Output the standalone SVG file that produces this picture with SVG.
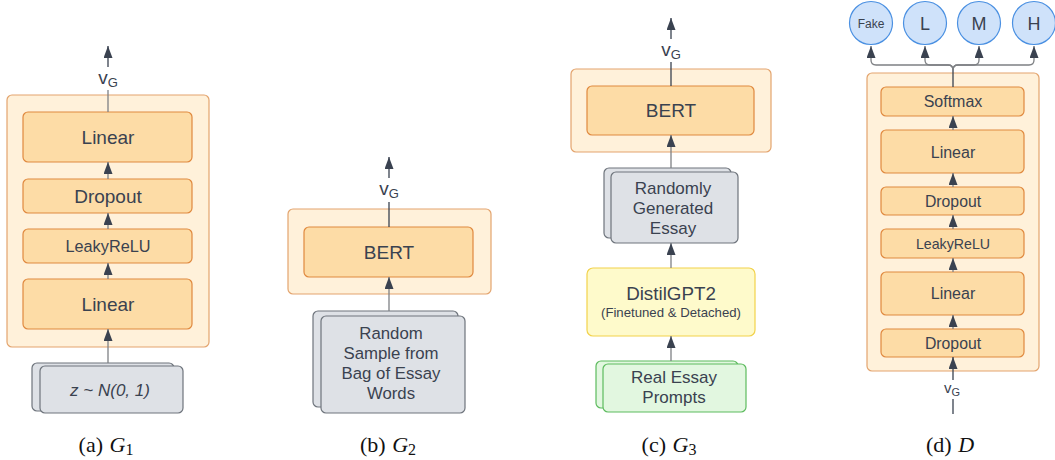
<svg xmlns="http://www.w3.org/2000/svg" width="1055" height="460" viewBox="0 0 1055 460">
<style>
  .outer { fill: #FFF1DA; stroke: #E3A46E; stroke-width: 1.2; }
  .inner { fill: #FDDCA6; stroke: #E0893F; stroke-width: 1.2; }
  .stack { fill: #DEE1E6; stroke: #6E747C; stroke-width: 1.2; }
  .green { fill: #E2F7E0; stroke: #5DBB5E; stroke-width: 1.2; }
  .yellow { fill: #FEFACB; stroke: #F2D24B; stroke-width: 1.2; }
  .circle { fill: #CFE2FA; stroke: #4A90E2; stroke-width: 1.2; }
  .lbl { font-family: "Liberation Sans", Arial, sans-serif; fill: #3A4250; text-anchor: middle; }
  .cap { font-family: "Liberation Serif", "Times New Roman", serif; fill: #111; font-size: 22px; text-anchor: middle; }
  .wire { stroke: #7E8084; stroke-width: 1.3; fill: none; }
  .dark { stroke: #3A4250; }
</style>
<defs>
  <marker id="arr" markerUnits="userSpaceOnUse" markerWidth="13" markerHeight="10" refX="12" refY="4.5" orient="auto">
    <path d="M0,0 L12,4.5 L0,9 z" fill="#3A4250"/>
  </marker>
</defs>

<!-- G1 -->
<g id="g1">
  <rect class="outer" x="7" y="95" width="202" height="252" rx="5"/>
  <rect class="inner" x="23" y="112" width="169" height="50" rx="5"/>
  <text class="lbl" x="108" y="143.5" font-size="19">Linear</text>
  <rect class="inner" x="23" y="179" width="169" height="34" rx="5"/>
  <text class="lbl" x="108" y="202.5" font-size="19">Dropout</text>
  <rect class="inner" x="23" y="229" width="169" height="34" rx="5"/>
  <text class="lbl" x="108" y="252" font-size="16.3">LeakyReLU</text>
  <rect class="inner" x="23" y="279" width="169" height="50" rx="5"/>
  <text class="lbl" x="108" y="310.5" font-size="19">Linear</text>
  <text class="lbl" x="108" y="84" font-size="19" fill="#222">v<tspan font-size="13" dy="3">G</tspan></text>
</g>
<g id="g1-input">
  <rect class="stack" x="32" y="363" width="142" height="48" rx="5"/>
  <rect class="stack" x="40" y="366" width="143" height="47" rx="5"/>
  <text class="lbl" x="110" y="396" font-size="17" font-style="italic">z ~ N(0, 1)</text>
</g>

<!-- G2 -->
<g id="g2">
  <rect class="outer" x="288" y="209" width="203" height="85" rx="5"/>
  <rect class="inner" x="304" y="227" width="169" height="50" rx="5"/>
  <text class="lbl" x="389" y="258.5" font-size="19">BERT</text>
  <text class="lbl" x="389" y="195" font-size="19" fill="#222">v<tspan font-size="13" dy="3">G</tspan></text>
</g>
<g id="g2-input">
  <rect class="stack" x="313" y="311" width="145" height="96" rx="5"/>
  <rect class="stack" x="321" y="316" width="144" height="97" rx="5"/>
  <text class="lbl" font-size="16.8"><tspan x="391" y="339">Random</tspan><tspan x="391" y="359">Sample from</tspan><tspan x="391" y="379">Bag of Essay</tspan><tspan x="391" y="399">Words</tspan></text>
</g>

<!-- G3 -->
<g id="g3">
  <rect class="outer" x="571" y="69" width="200" height="83" rx="5"/>
  <rect class="inner" x="587" y="86" width="167" height="49" rx="5"/>
  <text class="lbl" x="671" y="117" font-size="19">BERT</text>
  <text class="lbl" x="671" y="56" font-size="19" fill="#222">v<tspan font-size="13" dy="3">G</tspan></text>
</g>
<g id="g3-essay">
  <rect class="stack" x="604" y="168" width="127" height="70" rx="5"/>
  <rect class="stack" x="611" y="172" width="127" height="71" rx="5"/>
  <text class="lbl" font-size="17"><tspan x="673" y="194">Randomly</tspan><tspan x="673" y="214">Generated</tspan><tspan x="673" y="234">Essay</tspan></text>
</g>
<g id="g3-gpt">
  <rect class="yellow" x="587" y="268" width="168" height="68" rx="6"/>
  <text class="lbl" x="671" y="300" font-size="18.8">DistilGPT2</text>
  <text class="lbl" x="671" y="316.5" font-size="13.2">(Finetuned &amp; Detached)</text>
</g>
<g id="g3-prompts">
  <rect class="green" x="596" y="361" width="142" height="47" rx="5"/>
  <rect class="green" x="603" y="364" width="143" height="48" rx="5"/>
  <text class="lbl" font-size="17"><tspan x="674" y="383">Real Essay</tspan><tspan x="674" y="403">Prompts</tspan></text>
</g>

<!-- D -->
<g id="d">
  <rect class="outer" x="867" y="73" width="172" height="298" rx="5"/>
  <rect class="inner" x="881" y="87" width="143" height="29" rx="5"/>
  <text class="lbl" x="953" y="107" font-size="16">Softmax</text>
  <rect class="inner" x="881" y="130" width="143" height="43" rx="5"/>
  <text class="lbl" x="953" y="157.5" font-size="16">Linear</text>
  <rect class="inner" x="881" y="187" width="143" height="28" rx="5"/>
  <text class="lbl" x="953" y="206.5" font-size="15.8">Dropout</text>
  <rect class="inner" x="881" y="229" width="143" height="29" rx="5"/>
  <text class="lbl" x="953" y="248.5" font-size="14.2">LeakyReLU</text>
  <rect class="inner" x="881" y="272" width="143" height="43" rx="5"/>
  <text class="lbl" x="953" y="299" font-size="16">Linear</text>
  <rect class="inner" x="881" y="329" width="143" height="28" rx="5"/>
  <text class="lbl" x="953" y="348.5" font-size="15.8">Dropout</text>
  <text class="lbl" x="952" y="393" font-size="15" fill="#222">v<tspan font-size="11" dy="3">G</tspan></text>
</g>
<g id="d-fake">
  <circle class="circle" cx="871" cy="23" r="21.5"/>
  <text class="lbl" x="871" y="27.5" font-size="12">Fake</text>
</g>
<g id="d-l">
  <circle class="circle" cx="925" cy="23" r="21.5"/>
  <text class="lbl" x="925" y="29.5" font-size="18">L</text>
</g>
<g id="d-m">
  <circle class="circle" cx="979" cy="23" r="21.5"/>
  <text class="lbl" x="979" y="29.5" font-size="18">M</text>
</g>
<g id="d-h">
  <circle class="circle" cx="1034" cy="23" r="21.5"/>
  <text class="lbl" x="1034" y="29.5" font-size="18">H</text>
</g>

<!-- connectors, drawn over the boxes so the arrowheads stay visible -->
<g id="connectors">
  <!-- G1 -->
  <line class="wire" x1="108" y1="112" x2="108" y2="90"/>
  <line class="wire dark" x1="108" y1="67" x2="108" y2="46" marker-end="url(#arr)"/>
  <line class="wire" x1="108" y1="179" x2="108" y2="162" marker-end="url(#arr)"/>
  <line class="wire" x1="108" y1="229" x2="108" y2="213" marker-end="url(#arr)"/>
  <line class="wire" x1="108" y1="279" x2="108" y2="263" marker-end="url(#arr)"/>
  <line class="wire" x1="108" y1="363" x2="108" y2="329" marker-end="url(#arr)"/>
  <!-- G2 -->
  <line class="wire dark" x1="389" y1="227" x2="389" y2="202"/>
  <line class="wire dark" x1="389" y1="178" x2="389" y2="157" marker-end="url(#arr)"/>
  <line class="wire" x1="389" y1="311" x2="389" y2="277" marker-end="url(#arr)"/>
  <!-- G3 -->
  <line class="wire dark" x1="671" y1="86" x2="671" y2="62"/>
  <line class="wire dark" x1="671" y1="39" x2="671" y2="18" marker-end="url(#arr)"/>
  <line class="wire" x1="671" y1="168" x2="671" y2="135" marker-end="url(#arr)"/>
  <line class="wire" x1="671" y1="268" x2="671" y2="243" marker-end="url(#arr)"/>
  <line class="wire" x1="671" y1="361" x2="671" y2="336" marker-end="url(#arr)"/>
  <!-- D -->
  <line class="wire dark" x1="953" y1="87" x2="953" y2="68"/>
  <path class="wire" d="M953,70 Q953,65 948,65 L876,65 Q871,65 871,60 L871,46" marker-end="url(#arr)"/>
  <path class="wire" d="M953,70 Q953,65 948,65 L930,65 Q925,65 925,60 L925,46" marker-end="url(#arr)"/>
  <path class="wire" d="M953,70 Q953,65 958,65 L974,65 Q979,65 979,60 L979,46" marker-end="url(#arr)"/>
  <path class="wire" d="M953,70 Q953,65 958,65 L1029,65 Q1034,65 1034,60 L1034,46" marker-end="url(#arr)"/>
  <line class="wire" x1="953" y1="130" x2="953" y2="116" marker-end="url(#arr)"/>
  <line class="wire" x1="953" y1="187" x2="953" y2="173" marker-end="url(#arr)"/>
  <line class="wire" x1="953" y1="229" x2="953" y2="215" marker-end="url(#arr)"/>
  <line class="wire" x1="953" y1="272" x2="953" y2="258" marker-end="url(#arr)"/>
  <line class="wire" x1="953" y1="329" x2="953" y2="315" marker-end="url(#arr)"/>
  <line class="wire dark" x1="953" y1="380" x2="953" y2="357" marker-end="url(#arr)"/>
  <line class="wire dark" x1="953" y1="399" x2="953" y2="414"/>
</g>

<!-- captions -->
<g id="captions">
  <text class="cap" x="106" y="452">(a) <tspan font-style="italic" dx="1">G</tspan><tspan font-size="16" dy="3">1</tspan></text>
  <text class="cap" x="388" y="452">(b) <tspan font-style="italic" dx="1">G</tspan><tspan font-size="16" dy="3">2</tspan></text>
  <text class="cap" x="669" y="452">(c) <tspan font-style="italic" dx="1">G</tspan><tspan font-size="16" dy="3">3</tspan></text>
  <text class="cap" x="950" y="452">(d) <tspan font-style="italic" dx="1">D</tspan></text>
</g>
</svg>
